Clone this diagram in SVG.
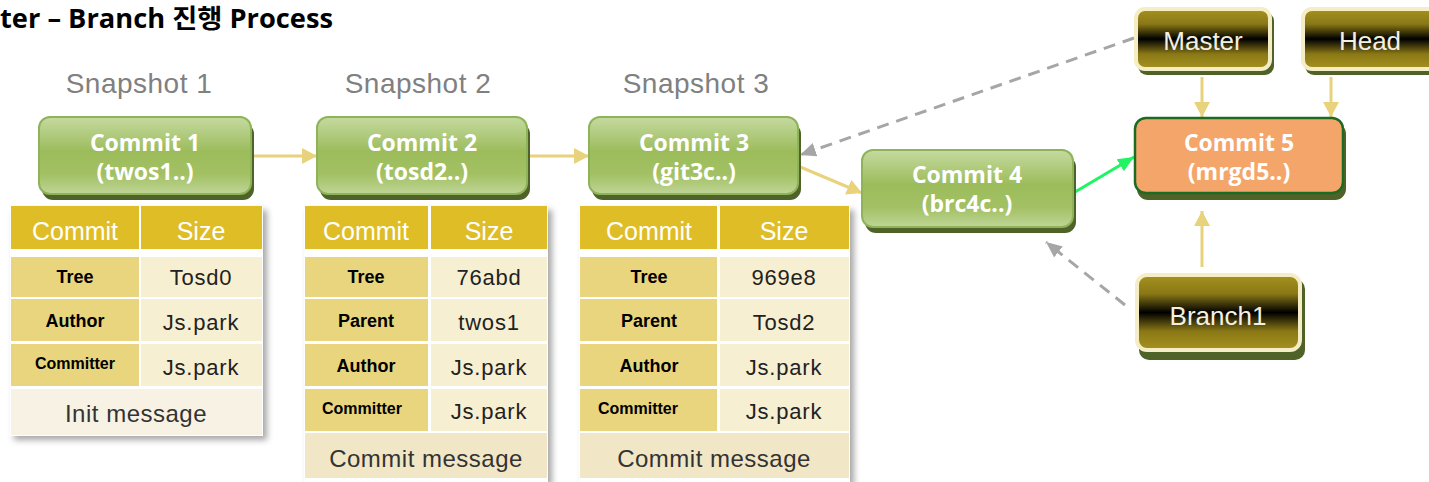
<svg xmlns="http://www.w3.org/2000/svg" width="1429" height="482" viewBox="0 0 1429 482">
<defs>
  <linearGradient id="gGreen" x1="0" y1="0" x2="0" y2="1">
    <stop offset="0" stop-color="#c5daa1"/>
    <stop offset="0.45" stop-color="#9cbc5b"/>
    <stop offset="0.75" stop-color="#a3c164"/>
    <stop offset="1" stop-color="#bfd597"/>
  </linearGradient>
  <linearGradient id="gDark" x1="0" y1="0" x2="0" y2="1">
    <stop offset="0" stop-color="#a6921f"/>
    <stop offset="0.25" stop-color="#8a7816"/>
    <stop offset="0.5" stop-color="#000000"/>
    <stop offset="0.75" stop-color="#8a7816"/>
    <stop offset="1" stop-color="#a6921f"/>
  </linearGradient>
  <filter id="tshadow" x="-10%" y="-10%" width="125%" height="125%">
    <feDropShadow dx="4" dy="4" stdDeviation="3" flood-color="#000" flood-opacity="0.35"/>
  </filter>
  <marker id="ay" markerWidth="16" markerHeight="16" refX="15" refY="8" orient="auto" markerUnits="userSpaceOnUse">
    <path d="M0,0 L15,8 L0,16 z" fill="#e8d27c"/>
  </marker>
  <marker id="ag" markerWidth="17" markerHeight="16" refX="16" refY="8" orient="auto" markerUnits="userSpaceOnUse">
    <path d="M0,1 L16,8 L0,15 z" fill="#a6a6a6"/>
  </marker>
  <marker id="agr" markerWidth="17" markerHeight="16" refX="16" refY="8" orient="auto" markerUnits="userSpaceOnUse">
    <path d="M0,1 L16,8 L0,15 z" fill="#1ff560"/>
  </marker>
  <style>
    .title{font-family:"Open Sans","Noto Sans CJK KR",sans-serif;font-weight:700;font-size:26px;fill:#000}
    .snap{font-family:"Liberation Sans",Arial,sans-serif;font-size:28px;fill:#808080;text-anchor:middle;letter-spacing:0.5px}
    .gbox{fill:url(#gGreen);stroke:#8eb358;stroke-width:2}
    .shadow{fill:#4f6228}
    .ctext{font-family:"Open Sans","Liberation Sans",sans-serif;font-weight:700;font-size:23px;fill:#fff;text-anchor:middle}
    .dbox{fill:url(#gDark);stroke:#f5edc5;stroke-width:4}
    .dtext{font-family:"Liberation Sans",Arial,sans-serif;font-size:26px;fill:#f3f0e2;text-anchor:middle}
    .hd{fill:#dfbd26}
    .key{fill:#e9d57d}
    .val{fill:#f7efd1}
    .msg1{fill:#f7f2e4}
    .msg{fill:#f1e6c6}
    .th{font-family:"Liberation Sans",Arial,sans-serif;font-size:25px;fill:#fff;text-anchor:middle}
    .tk{font-family:"Liberation Sans",Arial,sans-serif;font-weight:700;font-size:18px;fill:#000;text-anchor:middle}
    .tks{font-size:16px}
    .tv{font-family:"Liberation Sans",Arial,sans-serif;font-size:22px;fill:#222;text-anchor:middle;letter-spacing:0.8px}
    .tm{font-family:"Liberation Sans",Arial,sans-serif;font-size:24px;fill:#333;text-anchor:middle;letter-spacing:0.5px}
    .ly{fill:none;stroke:#e8d27c;stroke-width:3}
    .lg{fill:none;stroke:#a6a6a6;stroke-width:3;stroke-dasharray:12 8}
    .lgr{fill:none;stroke:#1ff560;stroke-width:3}
  </style>
</defs>
<rect x="0" y="0" width="1429" height="482" fill="#fff"/>

<text class="title" x="0" y="28" textLength="333" lengthAdjust="spacingAndGlyphs">ter – Branch 진행 Process</text>

<g id="labels">
  <text class="snap" x="139" y="93">Snapshot 1</text>
  <text class="snap" x="418" y="93">Snapshot 2</text>
  <text class="snap" x="696" y="93">Snapshot 3</text>
</g>

<g id="connectors">
  <line class="ly" x1="251" y1="156" x2="317" y2="156" marker-end="url(#ay)"/>
  <line class="ly" x1="527" y1="156" x2="589" y2="156" marker-end="url(#ay)"/>
  <line class="ly" x1="798" y1="166" x2="862" y2="193" marker-end="url(#ay)"/>
  <line class="lgr" x1="1075" y1="192" x2="1134" y2="157" marker-end="url(#agr)"/>
  <line class="lg" x1="1134" y1="38" x2="800" y2="155" marker-end="url(#ag)"/>
  <line class="lg" x1="1125" y1="305" x2="1046" y2="242" marker-end="url(#ag)"/>
  <line class="ly" x1="1202" y1="77" x2="1202" y2="117" marker-end="url(#ay)"/>
  <line class="ly" x1="1331" y1="77" x2="1331" y2="117" marker-end="url(#ay)"/>
  <line class="ly" x1="1202" y1="267" x2="1202" y2="211" marker-end="url(#ay)"/>
</g>

<g id="commit1">
  <rect class="shadow" x="42" y="123" width="212" height="77" rx="11"/>
  <rect class="gbox" x="39" y="117" width="212" height="77" rx="11"/>
  <text class="ctext" x="145" y="151">Commit 1</text>
  <text class="ctext" x="145" y="180">(twos1..)</text>
</g>
<g id="commit2">
  <rect class="shadow" x="320" y="123" width="210" height="77" rx="11"/>
  <rect class="gbox" x="317" y="117" width="210" height="77" rx="11"/>
  <text class="ctext" x="422" y="151">Commit 2</text>
  <text class="ctext" x="422" y="180">(tosd2..)</text>
</g>
<g id="commit3">
  <rect class="shadow" x="592" y="123" width="209" height="77" rx="11"/>
  <rect class="gbox" x="589" y="117" width="209" height="77" rx="11"/>
  <text class="ctext" x="694" y="151">Commit 3</text>
  <text class="ctext" x="694" y="180">(git3c..)</text>
</g>
<g id="commit4">
  <rect class="shadow" x="865" y="156" width="211" height="77" rx="11"/>
  <rect class="gbox" x="862" y="150" width="211" height="77" rx="11"/>
  <text class="ctext" x="967" y="183">Commit 4</text>
  <text class="ctext" x="967" y="212">(brc4c..)</text>
</g>
<g id="commit5">
  <rect class="shadow" x="1137" y="123" width="209" height="77" rx="11"/>
  <rect x="1135" y="118" width="208" height="75" rx="11" fill="#f4a56a" stroke="#1d6b22" stroke-width="2.5"/>
  <text class="ctext" x="1239" y="151">Commit 5</text>
  <text class="ctext" x="1239" y="180">(mrgd5..)</text>
</g>

<g id="master">
  <rect class="shadow" x="1138" y="12" width="136" height="63" rx="9"/>
  <rect class="dbox" x="1136" y="9" width="134" height="60" rx="9"/>
  <text class="dtext" x="1203" y="50">Master</text>
</g>
<g id="head">
  <rect class="shadow" x="1305" y="12" width="136" height="63" rx="9"/>
  <rect class="dbox" x="1303" y="9" width="134" height="60" rx="9"/>
  <text class="dtext" x="1370" y="50">Head</text>
</g>
<g id="branch1">
  <rect class="shadow" x="1139" y="279" width="166" height="81" rx="10"/>
  <rect class="dbox" x="1137" y="275" width="163" height="75" rx="10"/>
  <text class="dtext" x="1218" y="325">Branch1</text>
</g>

<g id="table1">
  <g filter="url(#tshadow)">
    <rect x="10" y="206" width="253" height="230" fill="#fff"/>
  </g>
  <rect class="hd" x="11" y="206" width="128" height="43"/>
  <rect class="hd" x="141" y="206" width="121" height="43"/>
  <rect class="key" x="11" y="257" width="128" height="40"/>
  <rect class="val" x="141" y="257" width="121" height="40"/>
  <rect class="key" x="11" y="299" width="128" height="42"/>
  <rect class="val" x="141" y="299" width="121" height="42"/>
  <rect class="key" x="11" y="344" width="128" height="42"/>
  <rect class="val" x="141" y="344" width="121" height="42"/>
  <rect class="msg1" x="11" y="389" width="251" height="46"/>
  <text class="th" x="75" y="240">Commit</text>
  <text class="th" x="201" y="240">Size</text>
  <text class="tk" x="75" y="283">Tree</text>
  <text class="tv" x="201" y="285">Tosd0</text>
  <text class="tk" x="75" y="327">Author</text>
  <text class="tv" x="201" y="330">Js.park</text>
  <text class="tk tks" x="75" y="369">Committer</text>
  <text class="tv" x="201" y="375">Js.park</text>
  <text class="tm" x="136" y="422">Init message</text>
</g>

<g id="table2">
  <g filter="url(#tshadow)">
    <rect x="304" y="206" width="244" height="276" fill="#fff"/>
  </g>
  <rect class="hd" x="305" y="206" width="123" height="43"/>
  <rect class="hd" x="431" y="206" width="116" height="43"/>
  <rect class="key" x="305" y="257" width="123" height="40"/>
  <rect class="val" x="431" y="257" width="116" height="40"/>
  <rect class="key" x="305" y="299" width="123" height="42"/>
  <rect class="val" x="431" y="299" width="116" height="42"/>
  <rect class="key" x="305" y="344" width="123" height="42"/>
  <rect class="val" x="431" y="344" width="116" height="42"/>
  <rect class="key" x="305" y="389" width="123" height="42"/>
  <rect class="val" x="431" y="389" width="116" height="42"/>
  <rect class="msg" x="305" y="433" width="242" height="45"/>
  <text class="th" x="366" y="240">Commit</text>
  <text class="th" x="489" y="240">Size</text>
  <text class="tk" x="366" y="283">Tree</text>
  <text class="tv" x="489" y="285">76abd</text>
  <text class="tk" x="366" y="327">Parent</text>
  <text class="tv" x="489" y="330">twos1</text>
  <text class="tk" x="366" y="372">Author</text>
  <text class="tv" x="489" y="375">Js.park</text>
  <text class="tk tks" x="362" y="414">Committer</text>
  <text class="tv" x="489" y="419">Js.park</text>
  <text class="tm" x="426" y="467">Commit message</text>
</g>

<g id="table3">
  <g filter="url(#tshadow)">
    <rect x="579" y="206" width="271" height="276" fill="#fff"/>
  </g>
  <rect class="hd" x="580" y="206" width="137" height="43"/>
  <rect class="hd" x="720" y="206" width="129" height="43"/>
  <rect class="key" x="580" y="257" width="137" height="40"/>
  <rect class="val" x="720" y="257" width="129" height="40"/>
  <rect class="key" x="580" y="299" width="137" height="42"/>
  <rect class="val" x="720" y="299" width="129" height="42"/>
  <rect class="key" x="580" y="344" width="137" height="42"/>
  <rect class="val" x="720" y="344" width="129" height="42"/>
  <rect class="key" x="580" y="389" width="137" height="42"/>
  <rect class="val" x="720" y="389" width="129" height="42"/>
  <rect class="msg" x="580" y="433" width="269" height="45"/>
  <text class="th" x="649" y="240">Commit</text>
  <text class="th" x="784" y="240">Size</text>
  <text class="tk" x="649" y="283">Tree</text>
  <text class="tv" x="784" y="285">969e8</text>
  <text class="tk" x="649" y="327">Parent</text>
  <text class="tv" x="784" y="330">Tosd2</text>
  <text class="tk" x="649" y="372">Author</text>
  <text class="tv" x="784" y="375">Js.park</text>
  <text class="tk tks" x="638" y="414">Committer</text>
  <text class="tv" x="784" y="419">Js.park</text>
  <text class="tm" x="714" y="467">Commit message</text>
</g>
</svg>
